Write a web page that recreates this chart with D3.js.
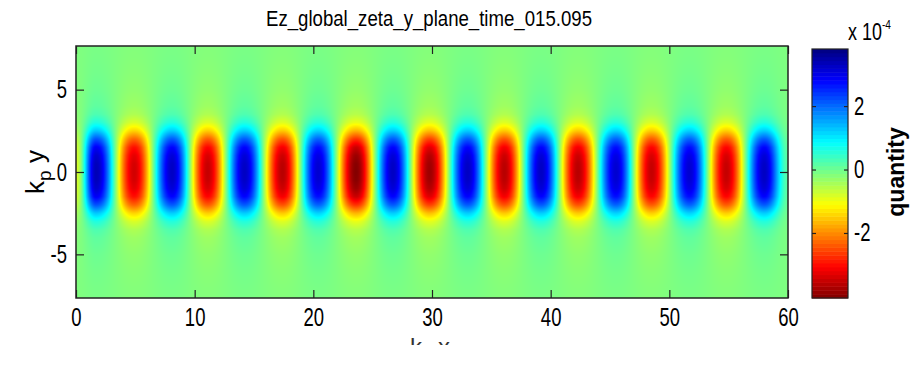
<!DOCTYPE html>
<html>
<head>
<meta charset="utf-8">
<script src="https://cdn.jsdelivr.net/npm/d3@7"></script>
<style>
  body { margin: 0; background: #fff; }
  svg { display: block; font-family: "Liberation Sans", Arial, sans-serif; }
</style>
</head>
<body>
<svg id="chart" width="914" height="386"></svg>
<script>
// On-axis samples of Ez (units of 1e-4): plot edges plus every extremum along k_p x
const axisX     = [0, 1.7, 4.9, 8.1, 11.1, 14.2, 17.4, 20.4, 23.6, 26.7, 29.8, 33.0, 36.1, 39.2, 42.3, 45.5, 48.5, 51.7, 54.8, 58.0, 60];
const axisValue = [-0.7, 3.5, -3.3, 3.4, -3.4, 3.4, -3.5, 3.3, -3.9, 3.4, -3.7, 3.4, -3.5, 3.4, -3.5, 3.3, -3.4, 3.3, -3.4, 3.4, 0.3];

// Transverse envelope |Ez(y)| / |Ez(0)| sampled at |k_p y|
const profileY     = [0, 0.5, 1, 1.5, 2, 2.5, 3, 3.5, 4, 5, 6, 7, 8];
const profileValue = [1, 0.99, 0.95, 0.86, 0.66, 0.40, 0.21, 0.11, 0.07, 0.04, 0.025, 0.015, 0.01];

// Background level away from the wake
const ambient = -0.12;

const xTicks = [0, 10, 20, 30, 40, 50, 60];
const yTicks = [-5, 0, 5];
const cbarTicks = [-2, 0, 2];
const cbarDomain = [-4.05, 3.8];
const xDomain = [0, 60];
const yDomain = [-7.65, 7.65];

const svg = d3.select("#chart");
const plot = { left: 76, right: 788, top: 46, bottom: 298 };
const cbar = { left: 812, right: 848, top: 49, bottom: 298 };

const x = d3.scaleLinear().domain(xDomain).range([plot.left, plot.right]);
const y = d3.scaleLinear().domain(yDomain).range([plot.bottom, plot.top]);

// MATLAB-style jet colormap, flipped so high values are blue
function jet(s) {
  const c = t => Math.max(0, Math.min(1, t));
  return d3.rgb(255 * c(1.5 - Math.abs(4 * s - 3)),
                255 * c(1.5 - Math.abs(4 * s - 2)),
                255 * c(1.5 - Math.abs(4 * s - 1)));
}
const color = d3.scaleSequential(t => jet(1 - t)).domain(cbarDomain).clamp(true);

// Smooth (half-cosine) blend between neighbouring axis samples
function onAxis(xv) {
  let i = d3.bisectRight(axisX, xv) - 1;
  i = Math.max(0, Math.min(axisX.length - 2, i));
  const u = (xv - axisX[i]) / (axisX[i + 1] - axisX[i]);
  const w = (1 - Math.cos(Math.PI * u)) / 2;
  return axisValue[i] * (1 - w) + axisValue[i + 1] * w;
}
const envelope = d3.scaleLinear().domain(profileY).range(profileValue).clamp(true);

// Field map rasterised on a canvas and placed into the SVG
const W = Math.round(plot.right - plot.left), H = Math.round(plot.bottom - plot.top);
const canvas = document.createElement("canvas");
canvas.width = W; canvas.height = H;
const ctx = canvas.getContext("2d");
const img = ctx.createImageData(W, H);
const col = new Float64Array(W);
for (let i = 0; i < W; i++) col[i] = onAxis(x.invert(plot.left + i + 0.5));
for (let j = 0; j < H; j++) {
  const env = envelope(Math.abs(y.invert(plot.top + j + 0.5)));
  for (let i = 0; i < W; i++) {
    const c = color(ambient + col[i] * env);
    const k = 4 * (j * W + i);
    img.data[k] = c.r; img.data[k + 1] = c.g; img.data[k + 2] = c.b; img.data[k + 3] = 255;
  }
}
ctx.putImageData(img, 0, 0);
svg.append("image")
  .attr("x", plot.left).attr("y", plot.top)
  .attr("width", W).attr("height", H)
  .attr("preserveAspectRatio", "none")
  .attr("href", canvas.toDataURL());

// Narrow, tall lettering: scale glyphs horizontally while keeping anchor positions
const squeeze = 0.74;
function condense(textSel, s) {
  textSel.each(function () {
    const t = d3.select(this);
    const x0 = +t.attr("x") || 0;
    t.attr("x", x0 / s).attr("transform", `scale(${s},1)`);
  });
}

// Axes with inward ticks on all four sides
const fmt = d => String(d);
const tickFont = g => {
  g.selectAll("text").attr("font-size", 25).attr("fill", "#000");
  condense(g.selectAll("text"), squeeze);
};
const noDomain = g => g.select(".domain").remove();
const tickStroke = g => g.selectAll("line").attr("stroke", "#222").attr("stroke-width", 1.2);

svg.append("g").attr("transform", `translate(0,${plot.bottom})`)
  .call(d3.axisBottom(x).tickValues(xTicks).tickSizeInner(-8).tickSizeOuter(0).tickPadding(10).tickFormat(fmt))
  .call(noDomain).call(tickFont).call(tickStroke);
svg.append("g").attr("transform", `translate(0,${plot.top})`)
  .call(d3.axisTop(x).tickValues(xTicks).tickSizeInner(-8).tickSizeOuter(0).tickFormat(""))
  .call(noDomain).call(tickStroke);
svg.append("g").attr("transform", `translate(${plot.left},0)`)
  .call(d3.axisLeft(y).tickValues(yTicks).tickSizeInner(-8).tickSizeOuter(0).tickPadding(9).tickFormat(fmt))
  .call(noDomain).call(tickFont).call(tickStroke);
svg.append("g").attr("transform", `translate(${plot.right},0)`)
  .call(d3.axisRight(y).tickValues(yTicks).tickSizeInner(-8).tickSizeOuter(0).tickFormat(""))
  .call(noDomain).call(tickStroke);

svg.append("rect")
  .attr("x", plot.left).attr("y", plot.top)
  .attr("width", plot.right - plot.left).attr("height", plot.bottom - plot.top)
  .attr("fill", "none").attr("stroke", "#222").attr("stroke-width", 1.5);

// Title
svg.append("text")
  .attr("x", 429).attr("y", 26).attr("text-anchor", "middle")
  .attr("font-size", 22).attr("fill", "#000")
  .attr("textLength", 326).attr("lengthAdjust", "spacingAndGlyphs")
  .text("Ez_global_zeta_y_plane_time_015.095");

// y label: k_p y
const yl = svg.append("text")
  .attr("transform", "translate(44,172) rotate(-90)")
  .attr("text-anchor", "middle").attr("font-size", 26).attr("fill", "#000");
yl.append("tspan").text("k");
yl.append("tspan").attr("font-size", 19).attr("dy", 7).text("p");
yl.append("tspan").attr("dy", -7).text(" y");

// x label: k_p x, cropped at the lower edge of the figure area
svg.append("clipPath").attr("id", "xlabClip")
  .append("rect").attr("x", 0).attr("y", 0).attr("width", 914).attr("height", 345);
const xl = svg.append("text")
  .attr("clip-path", "url(#xlabClip)")
  .attr("x", 430).attr("y", 355).attr("text-anchor", "middle")
  .attr("font-size", 24).attr("fill", "#333");
xl.append("tspan").text("k");
xl.append("tspan").attr("font-size", 17).attr("dy", 6).text("p");
xl.append("tspan").attr("dy", -6).text(" x");

// Colorbar
const cy = d3.scaleLinear().domain(cbarDomain).range([cbar.bottom, cbar.top]);
const levels = 64;
const step = (cbarDomain[1] - cbarDomain[0]) / levels;
svg.append("g").selectAll("rect")
  .data(d3.range(levels))
  .join("rect")
  .attr("x", cbar.left).attr("width", cbar.right - cbar.left)
  .attr("y", i => cy(cbarDomain[0] + (i + 1) * step))
  .attr("height", i => cy(cbarDomain[0] + i * step) - cy(cbarDomain[0] + (i + 1) * step) + 0.5)
  .attr("fill", i => color(cbarDomain[0] + (i + 0.5) * step));

svg.append("g").attr("transform", `translate(${cbar.right},0)`)
  .call(d3.axisRight(cy).tickValues(cbarTicks).tickSizeInner(-4).tickSizeOuter(0).tickPadding(6).tickFormat(fmt))
  .call(noDomain).call(tickFont).call(tickStroke);
svg.append("g").attr("transform", `translate(${cbar.left},0)`)
  .call(d3.axisLeft(cy).tickValues(cbarTicks).tickSizeInner(-4).tickSizeOuter(0).tickFormat(""))
  .call(noDomain).call(tickStroke);
svg.append("rect")
  .attr("x", cbar.left).attr("y", cbar.top)
  .attr("width", cbar.right - cbar.left).attr("height", cbar.bottom - cbar.top)
  .attr("fill", "none").attr("stroke", "#222").attr("stroke-width", 1.2);

// Colorbar multiplier
const mult = svg.append("text").attr("x", 848).attr("y", 40).attr("font-size", 23).attr("fill", "#000");
mult.append("tspan").text("x 10");
mult.append("tspan").attr("font-size", 13).attr("dy", -11).text("-4");
condense(mult, 0.78);

// Colorbar label
svg.append("text")
  .attr("transform", "translate(904,172) rotate(-90)")
  .attr("text-anchor", "middle").attr("font-size", 23).attr("font-weight", "bold").attr("fill", "#000")
  .text("quantity");
</script>
</body>
</html>
